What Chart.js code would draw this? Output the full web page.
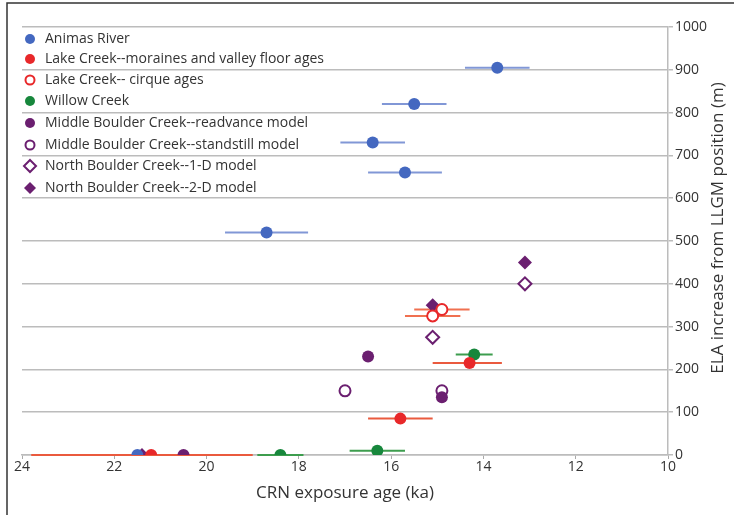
<!DOCTYPE html>
<html>
<head>
<meta charset="utf-8">
<script src="https://cdn.jsdelivr.net/npm/chart.js@4/dist/chart.umd.min.js"></script>
<style>
  html, body { margin: 0; padding: 0; background: #fff; }
  #wrap { width: 734px; height: 515px; position: relative; }
</style>
</head>
<body>
<div id="wrap"><canvas id="chart" width="734" height="515"></canvas></div>
<script>
// Ages (ka), ELA rise (m) and horizontal error bar ends (ka), per series
const animasAge = [13.7, 15.5, 16.4, 15.7, 18.7, 21.5];
const animasEla = [905, 820, 730, 660, 520, 0];
const animasErrLo = [13.0, 14.8, 15.7, 14.9, 17.8, null];
const animasErrHi = [14.4, 16.2, 17.1, 16.5, 19.6, null];

const lakeAge = [14.3, 15.8, 21.2];
const lakeEla = [215, 85, 0];
const lakeErrLo = [13.6, 15.1, 19.0];
const lakeErrHi = [15.1, 16.5, 23.8];

const cirqueAge = [14.9, 15.1];
const cirqueEla = [340, 325];
const cirqueErrLo = [14.3, 14.5];
const cirqueErrHi = [15.5, 15.7];

const willowAge = [14.2, 16.3, 18.4];
const willowEla = [235, 10, 0];
const willowErrLo = [13.8, 15.7, 17.9];
const willowErrHi = [14.6, 16.9, 18.9];

const mbcReAge = [16.5, 14.9, 20.5];
const mbcReEla = [230, 135, 0];

const mbcStAge = [17.0, 14.9];
const mbcStEla = [150, 150];

const nbc1Age = [13.1, 15.1];
const nbc1Ela = [400, 275];

const nbc2Age = [13.1, 15.1, 21.4];
const nbc2Ela = [450, 350, 0];

const xTicks = [24, 22, 20, 18, 16, 14, 12, 10];
const yTicks = [0, 100, 200, 300, 400, 500, 600, 700, 800, 900, 1000];

const BLUE = '#4468c0', RED = '#e8282a', GREEN = '#17873c', PURPLE = '#6b1f70';

function pts(xs, ys) {
    return xs.map((x, i) => ({ x: x, y: ys[i] }));
}

function series(label, xs, ys, color, filled, style, radius, lo, hi, errColor) {
    return {
        label: label,
        data: pts(xs, ys),
        pointStyle: style,
        pointRadius: radius,
        pointHoverRadius: radius,
        pointBackgroundColor: filled ? color : '#fff',
        pointBorderColor: color,
        pointBorderWidth: filled ? 0 : 2,
        showLine: false,
        errLo: lo,
        errHi: hi,
        errColor: errColor
    };
}

const datasets = [
    series('Animas River', animasAge, animasEla, BLUE, true, 'circle', 6, animasErrLo, animasErrHi, '#8197d6'),
    series('Lake Creek--moraines and valley floor ages', lakeAge, lakeEla, RED, true, 'circle', 6, lakeErrLo, lakeErrHi, '#ea5a3e'),
    series('Lake Creek-- cirque ages', cirqueAge, cirqueEla, RED, false, 'circle', 5.5, cirqueErrLo, cirqueErrHi, '#f07050'),
    series('Willow Creek', willowAge, willowEla, GREEN, true, 'circle', 6, willowErrLo, willowErrHi, '#3d9d4e'),
    series('Middle Boulder Creek--readvance model', mbcReAge, mbcReEla, PURPLE, true, 'circle', 6),
    series('Middle Boulder Creek--standstill model', mbcStAge, mbcStEla, PURPLE, false, 'circle', 5.5),
    series('North Boulder Creek--1-D model', nbc1Age, nbc1Ela, PURPLE, false, 'rectRot', 6.5),
    series('North Boulder Creek--2-D model', nbc2Age, nbc2Ela, PURPLE, true, 'rectRot', 7)
];

// horizontal error bars, drawn under the markers
const errorBars = {
    id: 'errorBars',
    beforeDatasetsDraw(chart) {
        const ctx = chart.ctx, xs = chart.scales.x, ys = chart.scales.y;
        ctx.save();
        chart.data.datasets.forEach(ds => {
            if (!ds.errLo) return;
            ds.data.forEach((p, i) => {
                if (ds.errLo[i] == null) return;
                const y = ys.getPixelForValue(p.y);
                ctx.strokeStyle = ds.errColor;
                ctx.lineWidth = 2;
                ctx.beginPath();
                ctx.moveTo(xs.getPixelForValue(ds.errLo[i]), y);
                ctx.lineTo(xs.getPixelForValue(ds.errHi[i]), y);
                ctx.stroke();
            });
        });
        ctx.restore();
    }
};

// legend inside plot, frame lines, rotated right title
const extras = {
    id: 'extras',
    afterDraw(chart) {
        const ctx = chart.ctx;
        ctx.save();
        // frame
        ctx.strokeStyle = '#333';
        ctx.lineWidth = 1.5;
        ctx.beginPath();
        ctx.moveTo(7, 515);
        ctx.lineTo(7, 3);
        ctx.lineTo(734, 3);
        ctx.stroke();

        // legend
        const rows = [39, 59, 80, 101, 123, 145, 166, 188];
        ctx.font = '14px "Open Sans"';
        ctx.textBaseline = 'middle';
        chart.data.datasets.forEach((ds, i) => {
            const y = rows[i], x = 30;
            ctx.fillStyle = ds.pointBackgroundColor;
            ctx.strokeStyle = ds.pointBorderColor;
            ctx.lineWidth = 2;
            ctx.beginPath();
            if (ds.pointStyle === 'circle') {
                ctx.arc(x, y, ds.pointBorderWidth ? 4.5 : 5, 0, Math.PI * 2);
            } else {
                const r = 6;
                ctx.moveTo(x, y - r); ctx.lineTo(x + r, y);
                ctx.lineTo(x, y + r); ctx.lineTo(x - r, y); ctx.closePath();
            }
            if (ds.pointBorderWidth) {
                ctx.fill(); ctx.stroke();
            } else {
                ctx.fillStyle = ds.pointBorderColor; ctx.fill();
            }
            ctx.fillStyle = '#333';
            ctx.fillText(ds.label, 45, y);
        });

        // y title
        ctx.translate(718, 228);
        ctx.rotate(-Math.PI / 2);
        ctx.font = '17px "Open Sans"';
        ctx.textAlign = 'center';
        ctx.fillStyle = '#333';
        ctx.fillText('ELA increase from LLGM position (m)', 0, 0);
        ctx.restore();
    }
};

new Chart(document.getElementById('chart'), {
    type: 'scatter',
    data: { datasets: datasets },
    plugins: [errorBars, extras],
    options: {
        responsive: false,
        animation: false,
        events: [],
        layout: { padding: { left: 22, top: 27, right: 0, bottom: 0 } },
        plugins: { legend: { display: false }, tooltip: { enabled: false } },
        scales: {
            x: {
                type: 'linear',
                reverse: true,
                min: 10,
                max: 24,
                afterBuildTicks: s => { s.ticks = xTicks.map(v => ({ value: v })); },
                afterFit: s => { s.height = 60; },
                grid: { drawOnChartArea: false, drawTicks: true, tickLength: 4, color: '#aaa', lineWidth: 1 },
                border: { display: true, color: '#bcbcbc', width: 1.5 },
                ticks: { color: '#333', font: { family: 'Open Sans', size: 14 }, padding: 0, maxRotation: 0,
                         callback: v => String(v) },
                title: {
                    display: true,
                    text: 'CRN exposure age (ka)',
                    color: '#333',
                    font: { family: 'Open Sans', size: 17 },
                    padding: { top: 2, bottom: 12 }
                }
            },
            y: {
                type: 'linear',
                position: 'right',
                min: 0,
                max: 1000,
                afterBuildTicks: s => { s.ticks = yTicks.map(v => ({ value: v })); },
                afterFit: s => { s.width = 66; },
                grid: { color: '#bcbcbc', lineWidth: 1.5, tickLength: 5 },
                border: { display: true, color: '#bcbcbc', width: 1.5 },
                ticks: { color: '#333', font: { family: 'Open Sans', size: 14 }, padding: 2,
                         callback: v => String(v) }
            }
        }
    }
});
</script>
</body>
</html>
